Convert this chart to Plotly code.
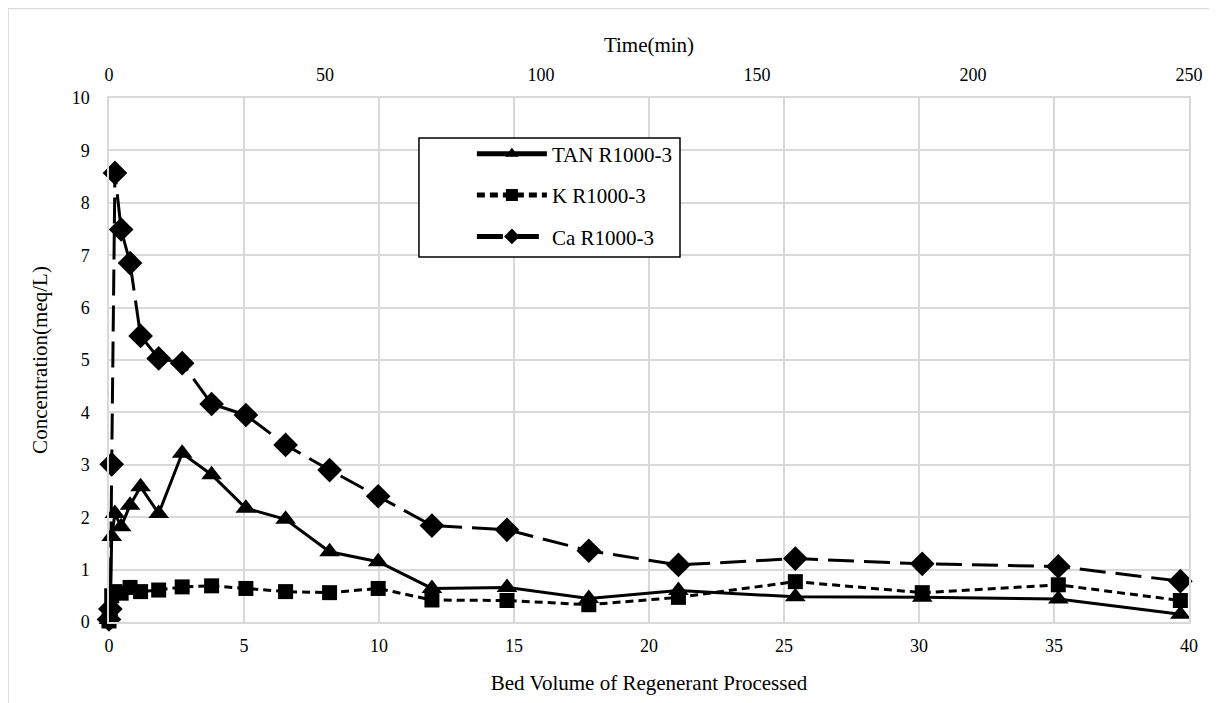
import plotly.graph_objects as go

# ---- data ----
bed_volume = [0.0, 0.05, 0.1, 0.22, 0.45, 0.78, 1.17, 1.84, 2.71, 3.80, 5.07, 6.54,
              8.17, 9.97, 11.96, 14.74, 17.77, 21.09, 25.42, 30.12, 35.16, 39.68]
tan = [0.05, 0.30, 1.63, 2.07, 1.82, 2.23, 2.58, 2.07, 3.22, 2.81, 2.17, 1.96,
       1.34, 1.15, 0.64, 0.66, 0.45, 0.60, 0.48, 0.47, 0.44, 0.15]
k = [0.02, 0.20, 0.50, 0.58, 0.55, 0.66, 0.58, 0.61, 0.67, 0.69, 0.64, 0.58,
     0.56, 0.64, 0.42, 0.41, 0.33, 0.47, 0.77, 0.56, 0.71, 0.41]
ca = [0.05, 0.25, 3.01, 8.57, 7.49, 6.85, 5.46, 5.03, 4.94, 4.16, 3.95, 3.38,
      2.90, 2.40, 1.84, 1.76, 1.36, 1.09, 1.21, 1.11, 1.06, 0.78]

bv_ticks = [0, 5, 10, 15, 20, 25, 30, 35, 40]
time_ticks = [0, 50, 100, 150, 200, 250]
conc_ticks = [0, 1, 2, 3, 4, 5, 6, 7, 8, 9, 10]

FONT = "Liberation Serif"
GRID = "#d9d9d9"
tick_font = dict(family=FONT, size=18, color="black")
title_font = dict(family=FONT, size=21, color="black")

fig = go.Figure()
fig.add_trace(go.Scatter(
    x=bed_volume, y=tan, name="TAN R1000-3", mode="lines+markers",
    line=dict(color="black", width=3),
    marker=dict(symbol="triangle-up", size=18, color="black"),
    cliponaxis=False, legendgroup="tan"))
fig.add_trace(go.Scatter(
    x=bed_volume, y=k, name="K R1000-3", mode="lines+markers",
    line=dict(color="black", width=3, dash="8px,5px"),
    marker=dict(symbol="square", size=15, color="black"),
    cliponaxis=False, legendgroup="k"))
fig.add_trace(go.Scatter(
    x=bed_volume, y=ca, name="Ca R1000-3", mode="lines+markers",
    line=dict(color="black", width=3, dash="26px,10px"),
    marker=dict(symbol="diamond", size=19, color="black"),
    cliponaxis=False, legendgroup="ca"))
# empty trace so the secondary (time) axis is drawn
fig.add_trace(go.Scatter(
    x=[time_ticks[0], time_ticks[-1]], y=[None, None], xaxis="x2",
    mode="none", showlegend=False, hoverinfo="skip"))

fig.update_layout(
    width=1217, height=703,
    margin=dict(l=101, r=36, t=90, b=89, autoexpand=False),
    plot_bgcolor="white", paper_bgcolor="white",
    font=dict(family=FONT, size=18, color="black"),
    showlegend=True,
    legend=dict(x=0.336, y=0.932, xanchor="left", yanchor="top",
                borderwidth=0, bgcolor="rgba(0,0,0,0)",
                font=title_font, tracegroupgap=11,
                itemwidth=70, itemsizing="constant"),
    xaxis=dict(range=[0, 40], tickvals=bv_ticks, showgrid=True,
               gridcolor=GRID, gridwidth=1.5, zeroline=False,
               showline=True, linecolor=GRID, linewidth=1.5, mirror=True,
               ticks="", ticklabelstandoff=7, automargin=False,
               tickfont=tick_font,
               title=dict(text="Bed Volume of Regenerant Processed",
                          font=title_font, standoff=20)),
    xaxis2=dict(range=[0, 250], tickvals=time_ticks, overlaying="x",
                side="top", anchor="y", showgrid=False, zeroline=False,
                showline=False, ticks="", ticklabelstandoff=12,
                automargin=False, tickfont=tick_font,
                title=dict(text="Time(min)", font=title_font, standoff=7)),
    yaxis=dict(range=[0, 10], tickvals=conc_ticks, showgrid=True,
               gridcolor=GRID, gridwidth=1.5, zeroline=False,
               showline=True, linecolor=GRID, linewidth=1.5, mirror=True,
               ticks="", ticklabelstandoff=14, automargin=False,
               tickfont=tick_font,
               title=dict(text="Concentration(meq/L)", font=title_font,
                          standoff=18)),
)

# legend frame (white box with black border)
fig.add_shape(type="rect", xref="paper", yref="paper", layer="above",
              x0=0.287, x1=0.5287, y0=0.6966, y1=0.9237,
              fillcolor="white", line=dict(color="black", width=1.5))

# outer chart-area border (left and top edges; the others fall off-page)
fig.add_shape(type="line", xref="paper", yref="paper", layer="below",
              x0=-0.0935, x1=-0.0935, y0=-0.2, y1=1.1708,
              line=dict(color=GRID, width=1.5))
fig.add_shape(type="line", xref="paper", yref="paper", layer="below",
              x0=-0.0935, x1=1.06, y0=1.1708, y1=1.1708,
              line=dict(color=GRID, width=1.5))

fig.write_html("out.html")
